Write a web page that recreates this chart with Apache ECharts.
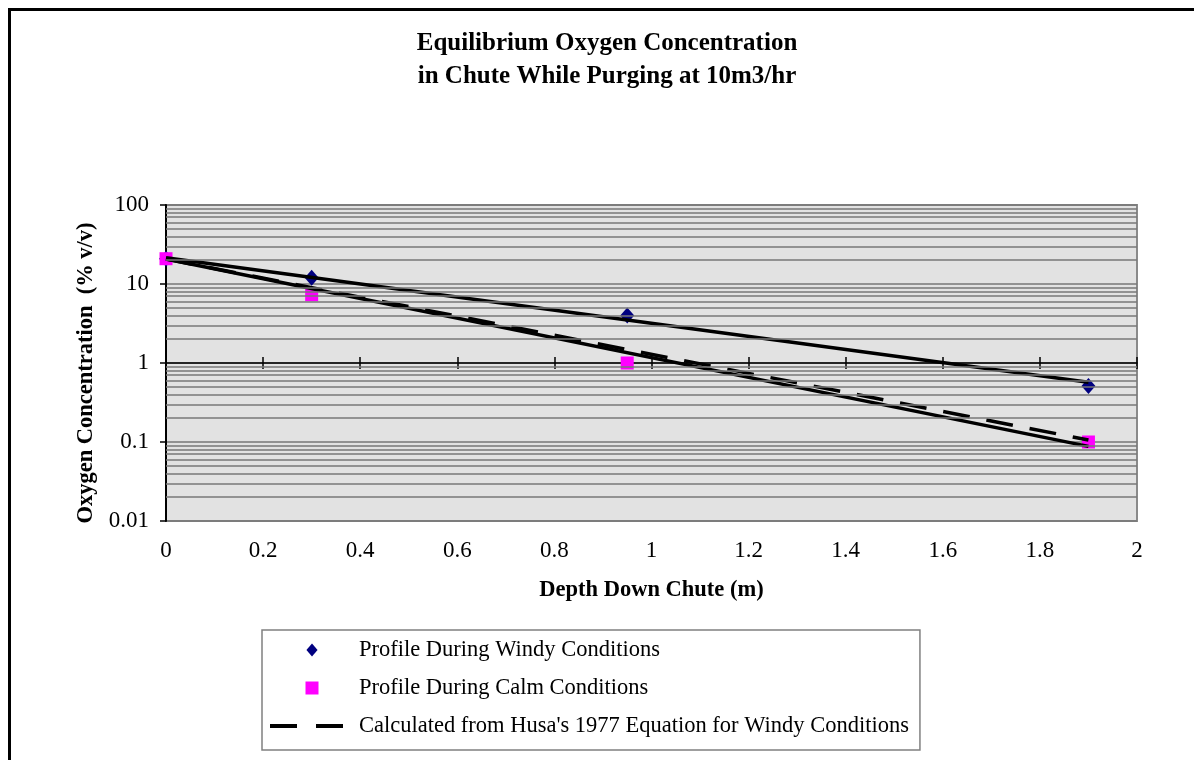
<!DOCTYPE html>
<html>
<head>
<meta charset="utf-8">
<script src="https://cdn.jsdelivr.net/npm/echarts@6/dist/echarts.min.js"></script>
<style>
html,body{margin:0;padding:0;background:#fff;}
#chart{width:1194px;height:760px;}
</style>
</head>
<body>
<div id="chart"></div>
<script>
// ---- data ----
const windyDepth = [0, 0.3, 0.95, 1.9];
const windyO2 = [20.9, 12, 4, 0.51];
const calmDepth = [0, 0.3, 0.95, 1.9];
const calmO2 = [20.9, 7.3, 1.0, 0.1];
const husaDepth = [0, 1.9];
const husaO2 = [20.7, 0.106];
const windyTrendDepth = [0, 1.9];
const windyTrendO2 = [21.5, 0.57];
const calmTrendDepth = [0, 1.9];
const calmTrendO2 = [20.7, 0.088];
const xTickValues = [0, 0.2, 0.4, 0.6, 0.8, 1, 1.2, 1.4, 1.6, 1.8, 2];
const yTickValues = [0.01, 0.1, 1, 10, 100];
const minorGridValues = [0.02,0.03,0.04,0.05,0.06,0.07,0.08,0.09,
                         0.2,0.3,0.4,0.5,0.6,0.7,0.8,0.9,
                         2,3,4,5,6,7,8,9,
                         20,30,40,50,60,70,80,90];
const legendNames = ['Profile During Windy Conditions', 'Profile During Calm Conditions', "Calculated from Husa's 1977 Equation for Windy Conditions"];

const zip = (xs, ys) => xs.map((x, i) => [x, ys[i]]);
const FONT = "'Liberation Serif', 'Times New Roman', serif";
const gridColor = '#777777';

const chart = echarts.init(document.getElementById('chart'), null, {renderer: 'canvas'});

const xBase = {
  type: 'value', min: xTickValues[0], max: xTickValues[xTickValues.length - 1], interval: 0.2,
  splitLine: {show: false}
};

const option = {
  animation: false,
  backgroundColor: '#fff',
  title: {
    text: 'Equilibrium Oxygen Concentration\nin Chute While Purging at 10m3/hr',
    left: 607, top: 27, padding: 0, textAlign: 'center',
    textStyle: {fontFamily: FONT, fontSize: 25, fontWeight: 'bold', color: '#000', lineHeight: 33}
  },
  graphic: [{
    type: 'rect', silent: true, z: 100,
    shape: {x: 9.5, y: 9.5, width: 1300, height: 900},
    style: {fill: 'none', stroke: '#000', lineWidth: 3}
  }],
  grid: {
    left: 166, top: 205, width: 971, height: 316,
    show: true, backgroundColor: '#e2e2e2', borderColor: '#8a8a8a', borderWidth: 2,
    containLabel: false
  },
  xAxis: [
    Object.assign({}, xBase, {
      position: 'bottom',
      name: 'Depth Down Chute (m)', nameLocation: 'middle', nameGap: 58,
      nameTextStyle: {fontFamily: FONT, fontSize: 22.5, fontWeight: 'bold', color: '#000'},
      axisLine: {show: false, onZero: false},
      axisTick: {show: false},
      axisLabel: {show: true, margin: 18, fontFamily: FONT, fontSize: 23, color: '#000'}
    }),
    Object.assign({}, xBase, {
      position: 'bottom', offset: -158,
      axisLine: {show: true, onZero: false, lineStyle: {color: '#000', width: 1.5}},
      axisTick: {show: true, inside: false, length: 6, lineStyle: {color: '#000', width: 1.5}},
      axisLabel: {show: false}
    }),
    Object.assign({}, xBase, {
      position: 'bottom', offset: -158,
      axisLine: {show: false, onZero: false},
      axisTick: {show: true, inside: true, length: 6, lineStyle: {color: '#000', width: 1.5}},
      axisLabel: {show: false}
    })
  ],
  yAxis: {
    type: 'log', logBase: 10, min: yTickValues[0], max: yTickValues[yTickValues.length - 1],
    splitNumber: 4,
    name: 'Oxygen Concentration  (% v/v)', nameLocation: 'middle', nameGap: 68, nameRotate: 90,
    nameTextStyle: {fontFamily: FONT, fontSize: 22.5, fontWeight: 'bold', color: '#000', padding: [0, 20, 0, 0]},
    axisLine: {show: true, onZero: false, lineStyle: {color: '#000', width: 2}},
    axisTick: {show: true, length: 6, lineStyle: {color: '#000', width: 1.5}},
    axisLabel: {margin: 17, fontFamily: FONT, fontSize: 23, color: '#000',
      formatter: v => String(+(+v).toPrecision(6))},
    splitLine: {show: true, lineStyle: {color: gridColor, width: 1.5}}
  },
  legend: {
    orient: 'vertical', left: 262, top: 630,
    padding: [8, 11, 12, 6], itemGap: 14, itemWidth: 84, itemHeight: 13,
    symbolKeepAspect: true,
    borderColor: '#808080', borderWidth: 1.5, backgroundColor: '#fff',
    textStyle: {fontFamily: FONT, fontSize: 22.5, color: '#000', lineHeight: 24},
    data: [
      {name: legendNames[0], icon: 'path://M6,0L12,7L6,14L0,7Z'},
      {name: legendNames[1], icon: 'path://M0,0L12,0L12,12L0,12Z'},
      {name: legendNames[2], itemStyle: {color: 'rgba(0,0,0,0)', opacity: 0, borderWidth: 0},
       lineStyle: {type: [27, 19], width: 4, color: '#000'}}
    ]
  },
  series: [
    {
      name: 'minor grid', type: 'line', data: [], z: 1, silent: true,
      markLine: {
        silent: true, symbol: 'none', label: {show: false},
        lineStyle: {color: gridColor, width: 1.5, type: 'solid'},
        data: minorGridValues.map(v => ({yAxis: v}))
      }
    },
    {
      name: legendNames[0], type: 'scatter', z: 2,
      symbol: 'diamond', symbolSize: [14, 16],
      itemStyle: {color: '#000080', opacity: 1},
      data: zip(windyDepth, windyO2)
    },
    {
      name: legendNames[1], type: 'scatter', z: 2,
      symbol: 'rect', symbolSize: 13,
      itemStyle: {color: '#ff00ff', opacity: 1},
      data: zip(calmDepth, calmO2)
    },
    {
      name: 'Windy trend', type: 'line', z: 3, symbol: 'none',
      lineStyle: {color: '#000', width: 3.5},
      data: zip(windyTrendDepth, windyTrendO2)
    },
    {
      name: 'Calm trend', type: 'line', z: 3, symbol: 'none',
      lineStyle: {color: '#000', width: 3.5},
      data: zip(calmTrendDepth, calmTrendO2)
    },
    {
      name: legendNames[2], type: 'line', z: 3, symbol: 'none',
      itemStyle: {color: '#000'},
      lineStyle: {color: '#000', width: 3.5, type: [27, 17]},
      data: zip(husaDepth, husaO2)
    }
  ]
};
chart.setOption(option);
</script>
</body>
</html>
